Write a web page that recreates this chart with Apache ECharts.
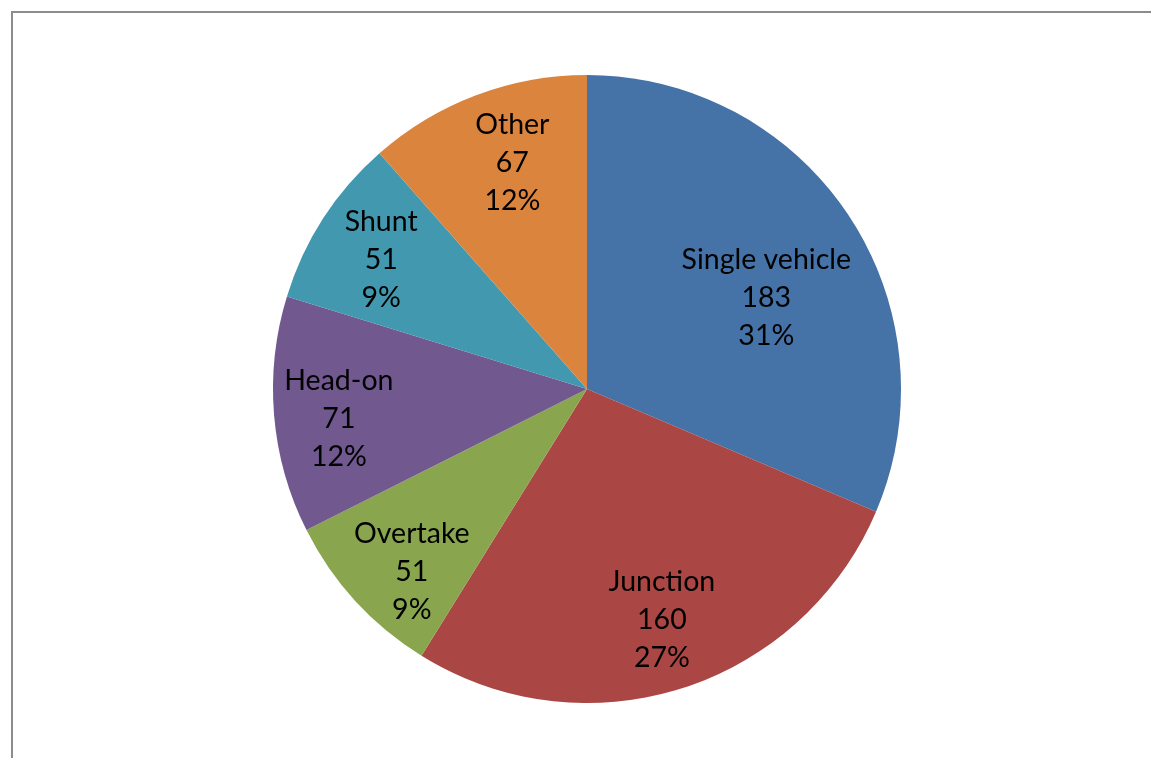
<!DOCTYPE html>
<html>
<head>
<meta charset="utf-8">
<title>Accident types</title>
<script src="https://cdn.jsdelivr.net/npm/echarts@6/dist/echarts.min.js"></script>
<style>
  html, body { margin: 0; padding: 0; background: #ffffff; }
  #frame {
    position: absolute; left: 11px; top: 11px; width: 1160px; height: 770px;
    border-left: 2px solid #8c8c8c; border-top: 2px solid #8c8c8c; box-sizing: border-box;
  }
  #chart { position: absolute; left: 0; top: 0; width: 1151px; height: 758px; }
</style>
</head>
<body>
<div id="frame"></div>
<div id="chart"></div>
<script>
// Accident counts by type
const categories = ['Single vehicle', 'Junction', 'Overtake', 'Head-on', 'Shunt', 'Other'];
const counts = [183, 160, 51, 71, 51, 67];
const colors = ['#4572A7', '#AA4643', '#89A54E', '#71588F', '#4198AF', '#DB843D'];

// fine placement of each data label inside its wedge
const labelNudges = [[-30, 47], [-1, -8], [10, 13], [2, 9], [5, 7], [14, 9]];

const slices = categories.map((name, i) => ({ name, value: counts[i] }));

const labelFont = {
  fontFamily: 'Lato, "Open Sans", sans-serif',
  fontSize: 28.5,
  lineHeight: 38,
  color: '#000000'
};

const chart = echarts.init(document.getElementById('chart'), null, { renderer: 'canvas' });
chart.setOption({
  animation: false,
  backgroundColor: 'transparent',
  series: [
    {
      // coloured wedges
      type: 'pie',
      center: [587, 389],
      radius: [0, 314],
      startAngle: 90,
      clockwise: true,
      silent: true,
      label: { show: false },
      labelLine: { show: false },
      itemStyle: { borderWidth: 0 },
      color: colors,
      data: slices
    },
    {
      // transparent ring that carries the data labels further out
      type: 'pie',
      center: [587, 389],
      radius: [182, 314],
      startAngle: 90,
      clockwise: true,
      silent: true,
      percentPrecision: 0,
      itemStyle: { color: 'rgba(0,0,0,0)', borderWidth: 0 },
      labelLine: { show: false },
      label: {
        show: true,
        position: 'inside',
        ...labelFont,
        formatter: p => p.name + '\n' + p.value + '\n' + p.percent + '%'
      },
      data: slices.map((s, i) => ({ ...s, label: { offset: labelNudges[i] } }))
    }
  ]
});
</script>
</body>
</html>
